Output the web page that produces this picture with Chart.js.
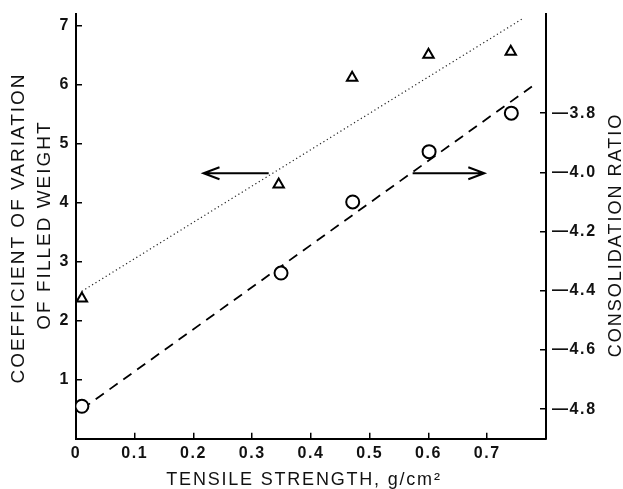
<!DOCTYPE html>
<html>
<head>
<meta charset="utf-8">
<script src="https://cdn.jsdelivr.net/npm/chart.js@4/dist/chart.umd.min.js"></script>
<style>
  html, body { margin: 0; padding: 0; background: #fff; }
  canvas { display: block; }
</style>
</head>
<body>
<canvas id="chart" width="623" height="489"></canvas>
<script>
// triangles: coefficient of variation of filled weight (left axis)
const tensileCv = [0.01, 0.345, 0.47, 0.60, 0.74];
const cvFilledWeight = [2.38, 4.31, 6.12, 6.51, 6.56];
// circles: consolidation ratio (right axis)
const tensileCons = [0.01, 0.349, 0.471, 0.601, 0.741];
const consolidationRatio = [-4.79, -4.34, -4.10, -3.93, -3.80];
// fitted lines (end points)
const cvFitX = [0.01, 0.76];
const cvFitY = [2.5, 7.12];
const consFitX = [0.01, 0.776];
const consFitY = [-4.80, -3.71];
// arrows pointing at the axes, in data units of x / left y
const arrows = [
  { from: 0.328, to: 0.217, y: 4.5 },
  { from: 0.573, to: 0.695, y: 4.5 }
];

const FONT = '"Liberation Sans", Arial, Helvetica, sans-serif';
const toPts = (xs, ys) => xs.map((x, i) => ({ x: x, y: ys[i] }));

const textPlugin = {
  id: 'textPlugin',
  beforeDraw(chart) {
    chart.ctx.letterSpacing = '1.6px';
  },
  afterDraw(chart) {
    const ctx = chart.ctx;
    const xs = chart.scales.x, ys = chart.scales.y;
    ctx.save();
    ctx.strokeStyle = '#000';
    ctx.lineWidth = 2;
    arrows.forEach(a => {
      const x1 = xs.getPixelForValue(a.from);
      const x2 = xs.getPixelForValue(a.to);
      const y = ys.getPixelForValue(a.y);
      const dir = x2 > x1 ? 1 : -1;
      ctx.beginPath();
      ctx.moveTo(x1, y);
      ctx.lineTo(x2, y);
      ctx.moveTo(x2 - dir * 16, y - 6);
      ctx.lineTo(x2, y);
      ctx.lineTo(x2 - dir * 16, y + 6);
      ctx.stroke();
    });
    ctx.restore();

    ctx.save();
    ctx.fillStyle = '#111';
    ctx.textAlign = 'center';
    ctx.textBaseline = 'alphabetic';
    // x title
    ctx.font = '18px ' + FONT;
    ctx.letterSpacing = '1.8px';
    ctx.fillText('TENSILE STRENGTH, g/cm\u00b2', 304, 485);
    // left title
    ctx.font = '19px ' + FONT;
    ctx.letterSpacing = '2px';
    ctx.save();
    ctx.translate(24, 228);
    ctx.rotate(-Math.PI / 2);
    ctx.fillText('COEFFICIENT OF VARIATION', 0, 0);
    ctx.restore();
    ctx.save();
    ctx.translate(50, 225);
    ctx.rotate(-Math.PI / 2);
    ctx.fillText('OF FILLED WEIGHT', 0, 0);
    ctx.restore();
    // right title
    ctx.font = '18px ' + FONT;
    ctx.save();
    ctx.translate(621, 235);
    ctx.rotate(-Math.PI / 2);
    ctx.fillText('CONSOLIDATION RATIO', 0, 0);
    ctx.restore();
    ctx.restore();
  }
};

const tickFont = { family: FONT, size: 16, weight: 'bold' };
const axisGrid = { drawOnChartArea: false, color: '#000', lineWidth: 1.5, tickLength: -6 };
const axisBorder = { display: true, color: '#000', width: 2 };
const fixSize = (prop, size) => s => {
  s[prop] = size;
  s.paddingTop = 0; s.paddingBottom = 0; s.paddingLeft = 0; s.paddingRight = 0;
};

new Chart(document.getElementById('chart').getContext('2d'), {
  type: 'scatter',
  data: {
    datasets: [
      {
        data: toPts(tensileCv, cvFilledWeight),
        yAxisID: 'y',
        pointStyle: 'triangle',
        pointRadius: 6,
        borderColor: '#000',
        backgroundColor: '#fff',
        borderWidth: 2
      },
      {
        data: toPts(tensileCons, consolidationRatio),
        yAxisID: 'y2',
        pointStyle: 'circle',
        pointRadius: 6.5,
        borderColor: '#000',
        backgroundColor: '#fff',
        borderWidth: 2
      },
      {
        data: toPts(cvFitX, cvFitY),
        yAxisID: 'y',
        showLine: true,
        pointRadius: 0,
        borderColor: '#222',
        borderWidth: 1.2,
        borderDash: [1.2, 2.8]
      },
      {
        data: toPts(consFitX, consFitY),
        yAxisID: 'y2',
        showLine: true,
        pointRadius: 0,
        borderColor: '#000',
        borderWidth: 1.8,
        borderDash: [10, 7]
      }
    ]
  },
  options: {
    responsive: false,
    animation: false,
    layout: { padding: { top: 14, left: 0, right: 0, bottom: 0 } },
    plugins: { legend: { display: false }, tooltip: { enabled: false } },
    scales: {
      x: {
        type: 'linear',
        min: 0,
        max: 0.8,
        afterFit: fixSize('height', 50.2),
        afterBuildTicks: s => { s.ticks = s.ticks.filter(t => t.value < 0.75); },
        grid: axisGrid,
        border: axisBorder,
        ticks: {
          stepSize: 0.1,
          padding: 11,
          color: '#111',
          font: tickFont,
          maxRotation: 0,
          callback: v => v === 0 ? '0' : v.toFixed(1)
        }
      },
      y: {
        position: 'left',
        min: 0,
        max: 7.2,
        afterFit: fixSize('width', 76),
        afterBuildTicks: s => { s.ticks = s.ticks.filter(t => t.value > 0.5); },
        grid: axisGrid,
        border: axisBorder,
        ticks: {
          stepSize: 1,
          includeBounds: false,
          padding: 12,
          color: '#111',
          font: tickFont,
          callback: v => String(v)
        }
      },
      y2: {
        position: 'right',
        min: -4.9,
        max: -3.465,
        afterFit: fixSize('width', 77),
        afterBuildTicks: s => { s.ticks = s.ticks.filter(t => t.value < -3.75); },
        grid: axisGrid,
        border: axisBorder,
        ticks: {
          stepSize: 0.2,
          includeBounds: false,
          padding: 12,
          color: '#111',
          font: tickFont,
          callback: v => '\u2014' + Math.abs(v).toFixed(1)
        }
      }
    }
  },
  plugins: [textPlugin]
});
</script>
</body>
</html>
